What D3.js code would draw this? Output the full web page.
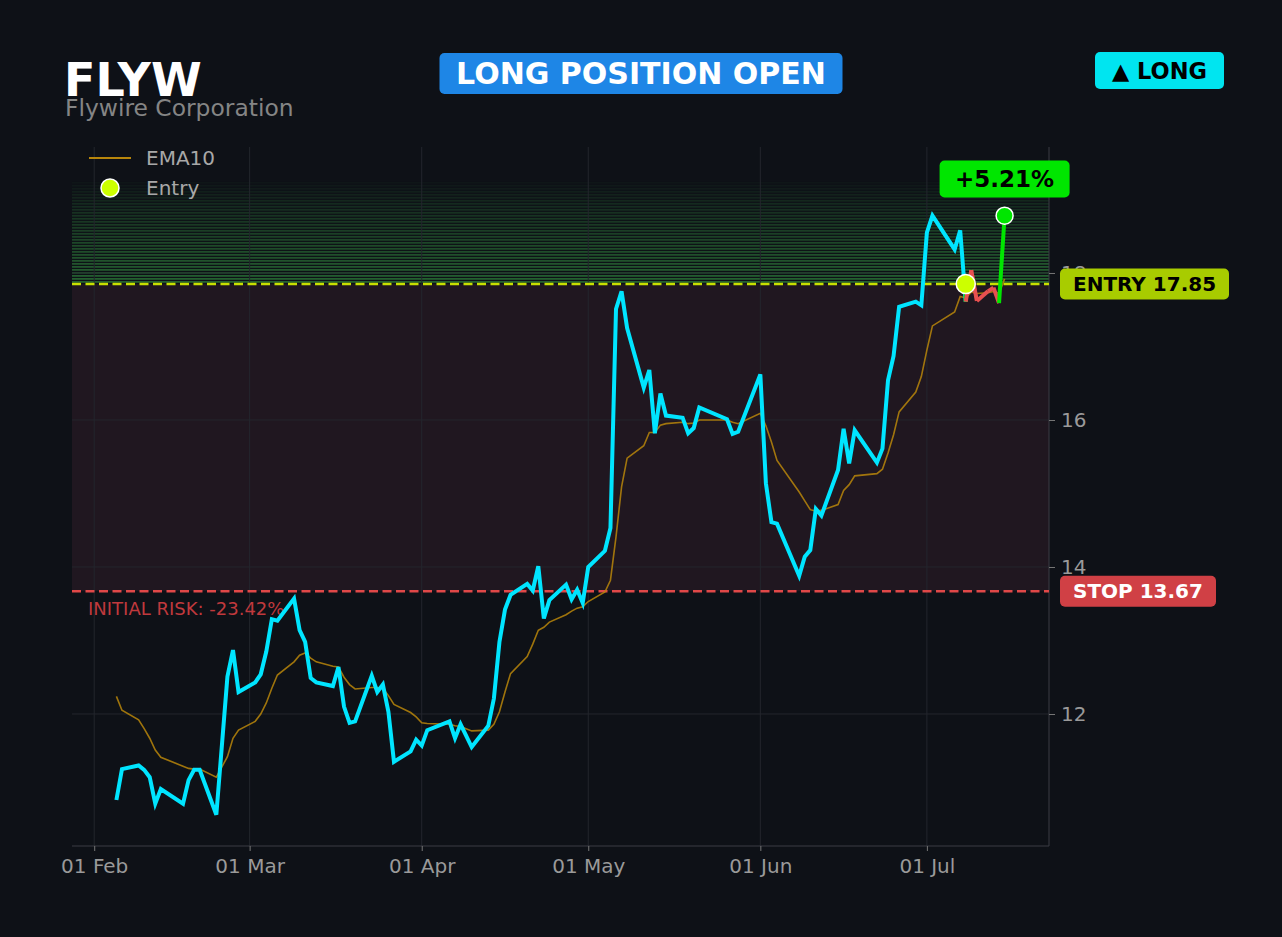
<!DOCTYPE html>
<html>
<head>
<meta charset="utf-8">
<script src="https://cdn.jsdelivr.net/npm/d3@7"></script>
<style>
  body { margin: 0; background: #0e1117; }
  svg { display: block; font-family: "DejaVu Sans", sans-serif; }
</style>
</head>
<body>
<div id="chart"></div>
<script>
// ---- data ----
var ticker = "FLYW",
  company = "Flywire Corporation";

var dates = [
  "2025-02-05", "2025-02-06", "2025-02-09", "2025-02-10", "2025-02-11", "2025-02-12", "2025-02-13",
  "2025-02-17", "2025-02-18", "2025-02-19", "2025-02-20", "2025-02-23", "2025-02-25", "2025-02-26",
  "2025-02-27", "2025-03-02", "2025-03-03", "2025-03-04", "2025-03-05", "2025-03-06", "2025-03-09",
  "2025-03-10", "2025-03-11", "2025-03-12", "2025-03-13", "2025-03-16", "2025-03-17", "2025-03-18",
  "2025-03-19", "2025-03-20", "2025-03-23", "2025-03-24", "2025-03-25", "2025-03-26", "2025-03-27",
  "2025-03-30", "2025-03-31", "2025-04-01", "2025-04-02", "2025-04-06", "2025-04-07", "2025-04-08",
  "2025-04-10", "2025-04-13", "2025-04-14", "2025-04-15", "2025-04-16", "2025-04-17", "2025-04-20",
  "2025-04-21", "2025-04-22", "2025-04-23", "2025-04-24", "2025-04-27", "2025-04-28", "2025-04-29",
  "2025-04-30", "2025-05-01", "2025-05-04", "2025-05-05", "2025-05-06", "2025-05-07", "2025-05-08",
  "2025-05-11", "2025-05-12", "2025-05-13", "2025-05-14", "2025-05-15", "2025-05-18", "2025-05-19",
  "2025-05-20", "2025-05-21", "2025-05-26", "2025-05-27", "2025-05-28", "2025-06-01", "2025-06-02",
  "2025-06-03", "2025-06-04", "2025-06-08", "2025-06-09", "2025-06-10", "2025-06-11", "2025-06-12",
  "2025-06-15", "2025-06-16", "2025-06-17", "2025-06-18", "2025-06-22", "2025-06-23", "2025-06-24",
  "2025-06-25", "2025-06-26", "2025-06-29", "2025-06-30", "2025-07-01", "2025-07-02", "2025-07-06",
  "2025-07-07", "2025-07-08", "2025-07-09", "2025-07-10", "2025-07-12", "2025-07-13", "2025-07-14",
  "2025-07-15"
];

var closes = [
  10.83, 11.25, 11.30, 11.24, 11.14, 10.78, 10.98,
  10.78, 11.10, 11.24, 11.24, 10.63, 12.51, 12.87,
  12.30, 12.43, 12.54, 12.85, 13.29, 13.27, 13.57,
  13.14, 12.98, 12.49, 12.43, 12.38, 12.64, 12.10,
  11.88, 11.90, 12.52, 12.30, 12.40, 12.03, 11.35,
  11.49, 11.65, 11.57, 11.78, 11.90, 11.67, 11.86,
  11.55, 11.84, 12.21, 12.98, 13.42, 13.62, 13.77,
  13.68, 14.01, 13.30, 13.55, 13.76, 13.56, 13.69,
  13.51, 14.00, 14.22, 14.53, 17.51, 17.75, 17.25,
  16.44, 16.68, 15.82, 16.36, 16.06, 16.03, 15.82,
  15.89, 16.17, 16.01, 15.81, 15.84, 16.62, 15.14,
  14.61, 14.59, 13.88, 14.14, 14.23, 14.79, 14.70,
  15.32, 15.88, 15.41, 15.86, 15.42, 15.61, 16.54,
  16.87, 17.54, 17.61, 17.56, 18.55, 18.78, 18.32,
  18.58, 17.61, 18.04, 17.62, 17.75, 17.80, 17.59,
  18.78
];

var ema10 = [
  12.24, 12.05, 11.92, 11.80, 11.67, 11.51, 11.41,
  11.29, 11.26, 11.25, 11.25, 11.14, 11.42, 11.67,
  11.78, 11.90, 12.00, 12.15, 12.35, 12.53, 12.71,
  12.80, 12.83, 12.76, 12.71, 12.65, 12.64, 12.50,
  12.40, 12.34, 12.36, 12.36, 12.35, 12.25, 12.13,
  12.02, 11.96, 11.88, 11.87, 11.86, 11.84, 11.83,
  11.77, 11.78, 11.86, 12.03, 12.30, 12.55, 12.78,
  12.95, 13.14, 13.18, 13.25, 13.35, 13.40, 13.44,
  13.46, 13.53, 13.66, 13.82, 14.41, 15.09, 15.48,
  15.65, 15.83, 15.83, 15.93, 15.95, 15.97, 15.95,
  15.96, 16.00, 16.00, 15.97, 15.95, 16.09, 15.92,
  15.70, 15.45, 15.02, 14.90, 14.78, 14.76, 14.77,
  14.85, 15.04, 15.12, 15.24, 15.27, 15.33, 15.55,
  15.80, 16.11, 16.38, 16.59, 16.95, 17.28, 17.47,
  17.68, 17.66, 17.74, 17.72, 17.73, 17.75, 17.72,
  17.92
];

var entryDate = "2025-07-08",
  entryPrice = 17.85,
  stopPrice = 13.67,
  targetTop = 19.24;

var xDomain = ["2025-01-28", "2025-07-23"];
var yDomain = [10.204, 19.714];
var yTicks = [12, 14, 16, 18];

// ---- layout ----
var W = 1282, H = 937;
var plotL = 72, plotR = 1049, plotT = 147, plotB = 846;

var bg = "#0e1117",
  cyan = "#00e5ff",
  green = "#00e600",
  red = "#e85050",
  lime = "#ccff00",
  gridCol = "#23262d",
  textCol = "#9a9a9a";

var parse = d3.timeParse("%Y-%m-%d");

var rows = dates.map(function(d, i) {
  return { date: parse(d), close: closes[i], ema: ema10[i] };
});
var entryD = parse(entryDate);

var x = d3.scaleTime().domain(xDomain.map(parse)).range([plotL, plotR]);
var y = d3.scaleLinear().domain(yDomain).range([plotB, plotT]);

var svg = d3.select("#chart").append("svg")
  .attr("width", W)
  .attr("height", H)
  .style("background", bg);

// risk zone between stop and entry
svg.append("rect")
  .attr("x", plotL)
  .attr("y", y(entryPrice))
  .attr("width", plotR - plotL)
  .attr("height", y(stopPrice) - y(entryPrice))
  .attr("fill", "#201720");

// green profit zone, striped fade above entry
var nStripes = 34;
var stripeStep = (y(entryPrice) - y(targetTop)) / nStripes;
for (var s = 0; s < nStripes; s++) {
  svg.append("rect")
    .attr("x", plotL)
    .attr("y", y(entryPrice) - (s + 1) * stripeStep)
    .attr("width", plotR - plotL)
    .attr("height", stripeStep * 0.6)
    .attr("fill", "#3cb04a")
    .attr("opacity", 0.5 * Math.pow(1 - s / nStripes, 0.8));
}

// grid
var months = x.ticks(d3.timeMonth.every(1));
svg.append("g").selectAll("line.vg")
  .data(months).enter().append("line")
  .attr("x1", function(d) { return x(d); })
  .attr("x2", function(d) { return x(d); })
  .attr("y1", plotT).attr("y2", plotB)
  .attr("stroke", gridCol).attr("stroke-width", 1);

svg.append("g").selectAll("line.hg")
  .data(yTicks).enter().append("line")
  .attr("x1", plotL).attr("x2", plotR)
  .attr("y1", function(d) { return y(d); })
  .attr("y2", function(d) { return y(d); })
  .attr("stroke", gridCol).attr("stroke-width", 1);

// axes
var xAxis = svg.append("g")
  .attr("transform", "translate(0," + plotB + ")")
  .call(d3.axisBottom(x).tickValues(months).tickFormat(d3.timeFormat("%d %b")).tickSize(5).tickPadding(8));
var yAxis = svg.append("g")
  .attr("transform", "translate(" + plotR + ",0)")
  .call(d3.axisRight(y).tickValues(yTicks).tickSize(6).tickPadding(6));

[xAxis, yAxis].forEach(function(a) {
  a.select(".domain").attr("stroke", "#3a3d45");
  a.selectAll(".tick line").attr("stroke", "#777");
  a.selectAll(".tick text")
    .attr("fill", textCol)
    .style("font-size", "20px")
    .style("font-family", "DejaVu Sans, sans-serif");
});
xAxis.select(".domain").attr("d", "M" + plotL + ",0H" + plotR);
yAxis.select(".domain").attr("d", "M0," + plotT + "V" + plotB);

// entry / stop lines
svg.append("line")
  .attr("x1", plotL).attr("x2", plotR)
  .attr("y1", y(entryPrice)).attr("y2", y(entryPrice))
  .attr("stroke", "#c8e000").attr("stroke-width", 2.5)
  .attr("stroke-dasharray", "9,4.5");
svg.append("line")
  .attr("x1", plotL).attr("x2", plotR)
  .attr("y1", y(stopPrice)).attr("y2", y(stopPrice))
  .attr("stroke", "#e04848").attr("stroke-width", 2.5)
  .attr("stroke-dasharray", "9,4.5");

var riskPct = (stopPrice / entryPrice - 1) * 100;
svg.append("text")
  .attr("x", 88).attr("y", y(stopPrice) + 24)
  .attr("fill", "#c0393d")
  .style("font-size", "18px")
  .text("INITIAL RISK: " + riskPct.toFixed(2) + "%");

// EMA10
var line = d3.line()
  .x(function(d) { return x(d.date); })
  .y(function(d) { return y(d.v); });

svg.append("path")
  .datum(rows.map(function(r) { return { date: r.date, v: r.ema }; }))
  .attr("d", line)
  .attr("fill", "none")
  .attr("stroke", "#b8860b")
  .attr("stroke-opacity", 0.85)
  .attr("stroke-width", 1.6);

// price before entry
var pre = rows.filter(function(r) { return r.date <= entryD; })
  .map(function(r) { return { date: r.date, v: r.close }; });
svg.append("path")
  .datum(pre)
  .attr("d", line)
  .attr("fill", "none")
  .attr("stroke", cyan)
  .attr("stroke-width", 4)
  .attr("stroke-linejoin", "miter");

// price after entry, segment by segment
var post = [{ date: entryD, v: entryPrice }].concat(
  rows.filter(function(r) { return r.date >= entryD; })
    .map(function(r) { return { date: r.date, v: r.close }; }));
var segs = d3.pairs(post);
svg.append("g").selectAll("path")
  .data(segs).enter().append("path")
  .attr("d", function(p) { return line(p); })
  .attr("fill", "none")
  .attr("stroke", function(p, i) {
    return (i === 0 || i === segs.length - 1) ? green : red;
  })
  .attr("stroke-width", 4)
  .attr("stroke-linecap", "butt");

// markers
var last = post[post.length - 1];
svg.append("circle")
  .attr("cx", x(entryD)).attr("cy", y(entryPrice))
  .attr("r", 9.5)
  .attr("fill", lime).attr("stroke", "#fff").attr("stroke-width", 1.5);
svg.append("circle")
  .attr("cx", x(last.date)).attr("cy", y(last.v))
  .attr("r", 8.5)
  .attr("fill", green).attr("stroke", "#fff").attr("stroke-width", 1.5);

// badges
function badge(cx, cy, w, h, fill, txt, txtCol, size, anchor) {
  var g = svg.append("g");
  g.append("rect")
    .attr("x", anchor === "start" ? cx : cx - w / 2)
    .attr("y", cy - h / 2)
    .attr("width", w).attr("height", h)
    .attr("rx", 5)
    .attr("fill", fill);
  g.append("text")
    .attr("x", anchor === "start" ? cx + 13 : cx)
    .attr("y", cy)
    .attr("dy", "0.36em")
    .attr("text-anchor", anchor === "start" ? "start" : "middle")
    .attr("fill", txtCol)
    .style("font-size", size + "px")
    .style("font-weight", "bold")
    .text(txt);
  return g;
}

var gainPct = (last.v / entryPrice - 1) * 100;
badge(x(last.date), 179, 130, 37, green, (gainPct >= 0 ? "+" : "") + gainPct.toFixed(2) + "%", "#000", 23);
badge(1060, y(entryPrice), 169, 31, "#a8cc00", "ENTRY " + entryPrice.toFixed(2), "#000", 20, "start");
badge(1060, y(stopPrice), 156, 31, "#d04045", "STOP " + stopPrice.toFixed(2), "#fff", 20, "start");

// header
svg.append("text")
  .attr("x", 64).attr("y", 96)
  .attr("fill", "#fff")
  .style("font-size", "46px")
  .style("font-weight", "bold")
  .text(ticker);
svg.append("text")
  .attr("x", 65).attr("y", 116)
  .attr("fill", "#858585")
  .style("font-size", "23.4px")
  .text(company);

badge(641, 73.5, 403, 41, "#1e86e6", "LONG POSITION OPEN", "#fff", 30);
badge(1159.5, 70.5, 129, 37, "#00e5f0", "\u25B2 LONG", "#000", 22.5);

// legend
svg.append("line")
  .attr("x1", 89).attr("x2", 131)
  .attr("y1", 158).attr("y2", 158)
  .attr("stroke", "#b8860b").attr("stroke-width", 2);
svg.append("text")
  .attr("x", 146).attr("y", 165)
  .attr("fill", "#a8a8a8")
  .style("font-size", "20px")
  .text("EMA10");
svg.append("circle")
  .attr("cx", 110).attr("cy", 188)
  .attr("r", 9)
  .attr("fill", lime).attr("stroke", "#fff").attr("stroke-width", 1.5);
svg.append("text")
  .attr("x", 146).attr("y", 194.5)
  .attr("fill", "#a8a8a8")
  .style("font-size", "20px")
  .text("Entry");
</script>
</body>
</html>
